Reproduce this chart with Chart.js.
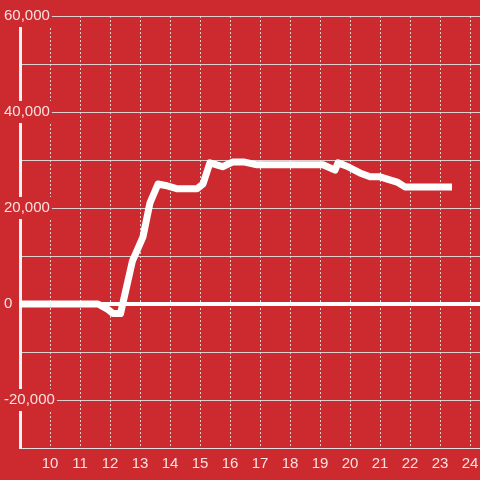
<!DOCTYPE html>
<html>
<head>
<meta charset="utf-8">
<script src="https://cdn.jsdelivr.net/npm/chart.js@4"></script>
<style>
    html, body { margin: 0; padding: 0; background: #cc2a2f; }
    canvas { display: block; }
</style>
</head>
<body>
<canvas id="chart" width="480" height="480"></canvas>
<script>
// Hora del día (horas decimales) y valor de la serie
const horas = [9.0, 11.6, 11.9, 12.1, 12.35, 12.75, 13.1, 13.33, 13.6, 13.85, 14.25, 14.9, 15.1, 15.33,
    15.75, 16.1, 16.45, 16.9, 18.0, 19.1, 19.5, 19.6, 19.9, 20.33, 20.67, 21.0, 21.57, 21.83, 23.4];
const valores = [0, 0, -1000, -2000, -2000, 9000, 14000, 21000, 25000, 24700, 24000, 24000, 25000, 29400,
    28600, 29600, 29600, 29000, 29000, 29000, 27900, 29400, 28700, 27300, 26500, 26500, 25400, 24400, 24400];

const xTicks = [10, 11, 12, 13, 14, 15, 16, 17, 18, 19, 20, 21, 22, 23, 24];
const yLabelTicks = [-20000, 0, 20000, 40000, 60000];

const fondo = '#cc2a2f';
const gris = 'rgba(225, 225, 225, 0.9)';
const textoColor = 'rgba(255, 240, 240, 0.92)';

const ctx = document.getElementById('chart').getContext('2d');

new Chart(ctx, {
    type: 'line',
    data: {
        datasets: [{
            data: horas.map((h, i) => ({ x: h, y: valores[i] })),
            borderColor: '#ffffff',
            borderWidth: 7,
            borderJoinStyle: 'round',
            borderCapStyle: 'butt',
            pointRadius: 0,
            tension: 0,
            fill: false
        }]
    },
    options: {
        responsive: false,
        animation: false,
        layout: { padding: { left: 19, top: 16, right: 0, bottom: 0 } },
        plugins: {
            legend: { display: false },
            tooltip: { enabled: false }
        },
        scales: {
            x: {
                type: 'linear',
                min: 9,
                max: 24.333,
                afterBuildTicks: scale => {
                    scale.ticks = xTicks.map(v => ({ value: v }));
                },
                afterFit: scale => {
                    scale.paddingRight = 0;
                    scale.paddingLeft = 0;
                },
                grid: {
                    color: gris,
                    lineWidth: 1,
                    drawTicks: false
                },
                border: { display: true, color: gris, width: 1, dash: [2, 2] },
                ticks: {
                    color: textoColor,
                    padding: 7,
                    font: { family: 'Liberation Sans', size: 15 }
                }
            },
            y: {
                min: -30000,
                max: 60000,
                afterFit: scale => { scale.width = 1; },
                grid: {
                    color: c => c.tick && c.tick.value === 0 ? '#ffffff' : gris,
                    lineWidth: c => c.tick && c.tick.value === 0 ? 4 : 1,
                    drawTicks: false
                },
                border: { display: true, color: '#f2f2f2', width: 3 },
                ticks: {
                    stepSize: 10000,
                    mirror: true,
                    padding: -16,
                    color: textoColor,
                    font: { family: 'Liberation Sans', size: 15 },
                    showLabelBackdrop: c => yLabelTicks.includes(c.tick.value),
                    backdropColor: fondo,
                    backdropPadding: 2,
                    callback: v => yLabelTicks.includes(v) ? v.toLocaleString('en-US') : ''
                }
            }
        }
    }
});
</script>
</body>
</html>
